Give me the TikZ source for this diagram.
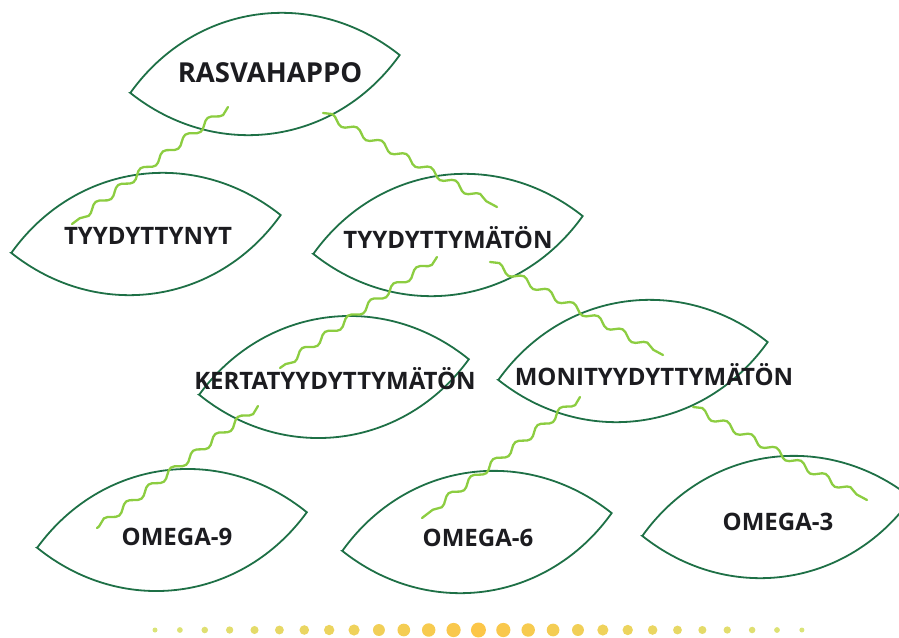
\documentclass[tikz,border=0pt]{standalone}
\usepackage{fontspec}
\setmainfont{Open Sans}
\usetikzlibrary{calc,decorations.pathmorphing}

\definecolor{leafgreen}{RGB}{30,112,70}
\definecolor{vine}{RGB}{140,205,65}
\definecolor{labelink}{RGB}{28,28,32}
\definecolor{dotmid}{RGB}{252,198,72}
\definecolor{dotend}{RGB}{218,228,120}

\tikzset{
  leafline/.style={draw=leafgreen, line width=1.8pt},
  vine/.style={draw=vine, line width=2.3pt, line cap=round, decorate,
    decoration={snake, segment length=28pt, amplitude=3.5pt}},
  leaftext/.style={text=labelink, inner sep=0pt,
    font=\bfseries\fontsize{24}{28}\selectfont},
  bigtext/.style={leaftext, font=\bfseries\fontsize{27.5}{32}\selectfont},
}

% lens-shaped leaf: name, centre, tilt
\newcommand\leafoutline[3]{%
  \coordinate (#1) at (#2);
  \draw[leafline, shift={(#2)}, rotate=#3]
    (-136,0) .. controls (-60,80) and (60,80) .. (136,0)
             .. controls (60,-80) and (-60,-80) .. cycle;
}

\begin{document}
\begin{tikzpicture}[x=1pt, y=-1pt]
\useasboundingbox (0,0) rectangle (899,637);
\clip (0,0) rectangle (899,637);

% leaves
\leafoutline{rasvahappo}{265,74}{8}
\leafoutline{tyydyttynyt}{146,234}{8}
\leafoutline{tyydyttymaton}{448,235}{8}
\leafoutline{kerta}{334,377}{7.5}
\leafoutline{moni}{633,361}{8}
\leafoutline{omega9}{172,530}{7.5}
\leafoutline{omega6}{477,532}{8}
\leafoutline{omega3}{777,517}{8}

% wavy stems between leaves
\draw[vine] ($(rasvahappo)+(-37,33)$) -- ($(tyydyttynyt)+(-74,-10)$);
\draw[vine] ($(rasvahappo)+(58,39)$) -- ($(tyydyttymaton)+(49,-28)$);
\draw[vine] ($(tyydyttymaton)+(-11,22)$) -- ($(kerta)+(-54,-9)$);
\draw[vine] ($(tyydyttymaton)+(42,27)$) -- ($(moni)+(30,-6)$);
\draw[vine] ($(kerta)+(-76,29)$) -- ($(omega9)+(-75,-2)$);
\draw[vine] ($(moni)+(-53,36)$) -- ($(omega6)+(-55,-14)$);
\draw[vine] ($(moni)+(60,46)$) -- ($(omega3)+(90,-17)$);

% labels
\node[bigtext]  (rasvahappo-t)    at (270,73)  {RASVAHAPPO};
\node[leaftext] (tyydyttynyt-t)   at (148,236) {TYYDYTTYNYT};
\node[leaftext] (tyydyttymaton-t) at (448,238) {TYYDYTTYMÄTÖN};
\node[leaftext] (kerta-t)         at (335,379) {KERTATYYDYTTYMÄTÖN};
\node[leaftext] (moni-t)          at (654,375) {MONITYYDYTTYMÄTÖN};
\node[leaftext] (omega9-t)        at (177,537) {OMEGA-9};
\node[leaftext] (omega6-t)        at (478,538) {OMEGA-6};
\node[leaftext] (omega3-t)        at (778,522) {OMEGA-3};

% dotted row along the bottom
\foreach \i in {0,...,26}{
  \pgfmathsetmacro\dd{abs(\i-13)/13}
  \pgfmathsetmacro\rr{(5+10*(1-\dd))/2}
  \pgfmathsetmacro\mm{100*(1-\dd)}
  \fill[dotmid!\mm!dotend] (155+24.88*\i,630) circle[radius=\rr];
}
\end{tikzpicture}
\end{document}
